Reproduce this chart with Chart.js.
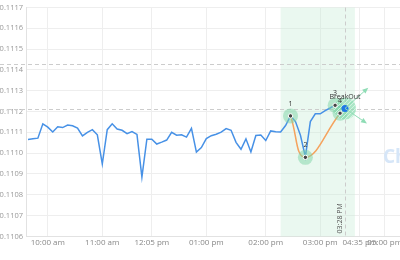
<!DOCTYPE html>
<html>
<head>
<meta charset="utf-8">
<script src="https://cdn.jsdelivr.net/npm/chart.js@4/dist/chart.umd.min.js"></script>
<style>
    html, body { margin: 0; padding: 0; background: #fff; }
</style>
</head>
<body>
<canvas id="priceChart" width="400" height="260"></canvas>
<script>
// one slot per bar time (category index = x position)
const times = [
    "09:40 am", "09:45 am", "09:50 am", "09:55 am", "10:00 am", "10:05 am", "10:10 am", "10:15 am",
    "10:20 am", "10:25 am", "10:30 am", "10:35 am", "10:40 am", "10:45 am", "10:55 am", "11:00 am",
    "11:05 am", "11:10 am", "11:15 am", "11:20 am", "11:25 am", "11:30 am", "11:50 am", "11:55 am",
    "12:00 pm", "12:05 pm", "12:10 pm", "12:15 pm", "12:20 pm", "12:25 pm", "12:30 pm", "12:35 pm",
    "12:40 pm", "12:45 pm", "12:50 pm", "12:55 pm", "01:00 pm", "01:05 pm", "01:10 pm", "01:15 pm",
    "01:20 pm", "01:25 pm", "01:30 pm", "01:35 pm", "01:40 pm", "01:45 pm", "01:50 pm", "01:55 pm",
    "02:00 pm", "02:05 pm", "02:10 pm", "02:15 pm", "02:20 pm", "02:25 pm", "02:30 pm", "02:35 pm",
    "02:40 pm", "02:45 pm", "02:50 pm", "03:00 pm", "03:05 pm", "03:10 pm", "03:15 pm", "03:20 pm",
    "03:28 pm", "03:45 pm", "04:10 pm", "04:35 pm", "04:40 pm", "04:45 pm", "04:50 pm", "04:55 pm",
    "05:00 pm", "05:05 pm", "05:10 pm", "05:15 pm"
];
const tickTimes = ["10:00 am", "11:00 am", "12:05 pm", "01:00 pm", "02:00 pm", "03:00 pm", "04:35 pm", "05:00 pm"];

const price = [
    0.111066, 0.111069, 0.111072, 0.111141, 0.111125, 0.111102, 0.111127, 0.111123,
    0.111135, 0.111132, 0.111121, 0.111083, 0.111100, 0.111113, 0.111088, 0.110948,
    0.111113, 0.111141, 0.111116, 0.111110, 0.111094, 0.111104, 0.111090, 0.110885,
    0.111067, 0.111067, 0.111044, 0.111053, 0.111063, 0.111100, 0.111086, 0.111088,
    0.111077, 0.111119, 0.111005, 0.111027, 0.111070, 0.111084, 0.111091, 0.111101,
    0.111118, 0.111110, 0.111052, 0.111019, 0.111069, 0.111006, 0.111085, 0.111087,
    0.111061, 0.111107, 0.111103, 0.111102, 0.111133, 0.111179, 0.111152, 0.111086,
    0.110982, 0.111152, 0.111189, 0.111189, 0.111204, 0.111217, 0.111231, 0.111221,
    0.111215
];

// pattern pivots
const pivotIdx = [53, 56, 62, 63];
const pivotVals = [0.111179, 0.110980, 0.111230, 0.111192];
const pivotNames = ["1", "2", "3", "4"];

// fitted curve (orange)
const curveIdx = [53, 56, 63];
const curveVals = [0.111179, 0.110980, 0.111192];

const breakoutAt = [64, 0.111215];
const breakoutName = "BreakOut";
const arrowIdx = [68.4, 68.1];
const arrowVals = [0.111308, 0.111148];

const levels = [0.11143, 0.11121];
const zone = [51, 66];
const nowIdx = 64;
const nowLabel = "03:28 PM";

const yMin = 0.1106, yMax = 0.1117, yStep = 0.0001;

const tickIdx = tickTimes.map(t => times.indexOf(t));
const xy = (xs, ys) => xs.map((x, i) => ({ x: x, y: ys[i] }));

// hatch fill for the breakout blob
function hatch() {
    const c = document.createElement("canvas");
    c.width = 4; c.height = 4;
    const g = c.getContext("2d");
    g.fillStyle = "rgba(130,218,172,0.6)";
    g.fillRect(0, 0, 4, 4);
    g.strokeStyle = "rgba(215,244,228,0.9)";
    g.lineWidth = 1;
    g.beginPath();
    g.moveTo(0, 4); g.lineTo(4, 0);
    g.stroke();
    return g.createPattern(c, "repeat");
}

const overlay = {
    id: "overlay",
    beforeDatasetsDraw(chart) {
        const { ctx, chartArea: a, scales: { x, y } } = chart;
        ctx.save();

        const z0 = x.getPixelForValue(zone[0]);
        const z1 = x.getPixelForValue(zone[1]);
        ctx.fillStyle = "rgba(200,236,216,0.38)";
        ctx.fillRect(z0, a.top, z1 - z0, a.bottom - a.top);

        ctx.font = "bold 19px 'Open Sans'";
        ctx.fillStyle = "#d6e6f8";
        ctx.textBaseline = "middle";
        ctx.textAlign = "left";
        ctx.fillText("ChartIQ", a.right - 17, 158);

        ctx.strokeStyle = "#cccccc";
        ctx.lineWidth = 1;
        ctx.setLineDash([4, 3]);
        levels.forEach(v => {
            const py = Math.round(y.getPixelForValue(v)) + 0.5;
            ctx.beginPath();
            ctx.moveTo(0, py);
            ctx.lineTo(chart.width, py);
            ctx.stroke();
        });

        const nx = Math.round(x.getPixelForValue(nowIdx)) + 0.5;
        ctx.beginPath();
        ctx.moveTo(nx, a.top);
        ctx.lineTo(nx, a.bottom);
        ctx.stroke();
        ctx.setLineDash([]);

        ctx.translate(nx - 6, a.bottom - 3);
        ctx.rotate(-Math.PI / 2);
        ctx.font = "7px 'Open Sans'";
        ctx.fillStyle = "#555";
        ctx.textAlign = "left";
        ctx.textBaseline = "middle";
        ctx.fillText(nowLabel, 0, 0);
        ctx.restore();
    },
    afterDatasetsDraw(chart) {
        const { ctx, scales: { x, y } } = chart;
        ctx.save();

        const bx = x.getPixelForValue(breakoutAt[0]);
        const by = y.getPixelForValue(breakoutAt[1]);
        ctx.strokeStyle = "#8fdcb5";
        ctx.fillStyle = "#8fdcb5";
        ctx.lineWidth = 1;
        arrowIdx.forEach((ai, k) => {
            const tx = x.getPixelForValue(ai);
            const ty = y.getPixelForValue(arrowVals[k]);
            ctx.beginPath();
            ctx.moveTo(bx, by);
            ctx.lineTo(tx, ty);
            ctx.stroke();
            const ang = Math.atan2(ty - by, tx - bx);
            ctx.beginPath();
            ctx.moveTo(tx + 2 * Math.cos(ang), ty + 2 * Math.sin(ang));
            ctx.lineTo(tx - 4 * Math.cos(ang) - 2.5 * Math.sin(ang), ty - 4 * Math.sin(ang) + 2.5 * Math.cos(ang));
            ctx.lineTo(tx - 4 * Math.cos(ang) + 2.5 * Math.sin(ang), ty - 4 * Math.sin(ang) - 2.5 * Math.cos(ang));
            ctx.closePath();
            ctx.fill();
        });

        ctx.font = "7px 'Open Sans'";
        ctx.fillStyle = "#333";
        ctx.textAlign = "center";
        ctx.textBaseline = "middle";
        pivotIdx.forEach((pi, k) => {
            ctx.fillText(pivotNames[k], x.getPixelForValue(pi), y.getPixelForValue(pivotVals[k]) - 12);
        });
        ctx.fillText(breakoutName, bx, by - 11);
        ctx.restore();
    }
};

new Chart(document.getElementById("priceChart"), {
    type: "line",
    data: {
        datasets: [
            {
                data: xy(price.map((_, i) => i), price),
                borderColor: "#4791e6",
                borderWidth: 1.5,
                pointRadius: 0,
                tension: 0,
                order: 6
            },
            {
                data: xy(curveIdx, curveVals),
                borderColor: "#f5a35e",
                borderWidth: 1.5,
                pointRadius: 0,
                tension: 0.45,
                order: 5
            },
            {
                data: xy(pivotIdx, pivotVals),
                showLine: false,
                pointRadius: 7.5,
                pointBorderWidth: 0,
                pointBackgroundColor: "rgba(125,212,165,0.5)",
                order: 4
            },
            {
                data: xy([breakoutAt[0]], [breakoutAt[1]]),
                showLine: false,
                pointRadius: 11,
                pointBorderWidth: 0,
                pointBackgroundColor: hatch(),
                order: 3
            },
            {
                data: xy(pivotIdx, pivotVals),
                showLine: false,
                pointRadius: 2.2,
                pointBorderWidth: 1,
                pointBorderColor: "#ffffff",
                pointBackgroundColor: "#444",
                order: 2
            },
            {
                data: xy([breakoutAt[0]], [breakoutAt[1]]),
                showLine: false,
                pointRadius: 3.5,
                pointBorderWidth: 0,
                pointBackgroundColor: "#1f78e6",
                order: 1
            }
        ]
    },
    options: {
        responsive: false,
        animation: false,
        devicePixelRatio: 1,
        layout: { autoPadding: false, padding: { left: 0, right: 0, top: 0, bottom: 10 } },
        plugins: {
            legend: { display: false },
            tooltip: { enabled: false }
        },
        scales: {
            x: {
                type: "linear",
                min: -0.4,
                max: 75.1,
                afterBuildTicks: s => { s.ticks = tickIdx.map(v => ({ value: v })); },
                afterFit: s => { s.paddingLeft = 0; s.paddingRight = 0; },
                ticks: {
                    autoSkip: false,
                    maxRotation: 0,
                    padding: 2,
                    color: "#888",
                    font: { family: "'Open Sans'", size: 8 },
                    callback: v => times[v]
                },
                grid: { color: "#eeeeee", drawTicks: false },
                border: { color: "#e2e2e2" }
            },
            y: {
                min: yMin,
                max: yMax,
                afterFit: s => { s.width = 26; },
                ticks: {
                    stepSize: yStep,
                    padding: 3,
                    color: "#999",
                    font: { family: "'Open Sans'", size: 7.5 },
                    callback: v => v.toFixed(4)
                },
                grid: { color: "#eeeeee", drawTicks: false },
                border: { color: "#e2e2e2" }
            }
        }
    },
    plugins: [overlay]
});
</script>
</body>
</html>
